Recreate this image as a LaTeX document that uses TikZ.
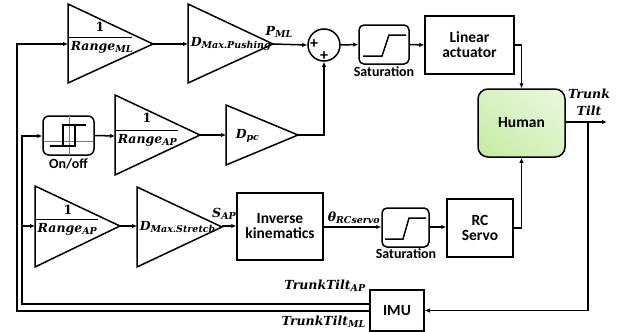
\documentclass[tikz,border=0pt]{standalone}
\usepackage{fontspec}
\setsansfont{Carlito}
\newfontfamily\mfont{DejaVu Serif}
\usetikzlibrary{arrows.meta,shadings}
\newcommand\msb[2]{#1\raisebox{-0.3ex}{\fontsize{9.5}{10}\selectfont #2}}
\begin{document}
\begin{tikzpicture}[x=1pt,y=-1pt,
  line width=1.5pt,
  arr/.style={-{Latex[length=5pt,width=4.5pt]}},
  blk/.style={draw, line width=1.5pt},
  sfl/.style={font=\sffamily\bfseries\fontsize{15.5}{17}\selectfont, align=center},
  satl/.style={font=\sffamily\bfseries\fontsize{14}{15}\selectfont},
  mth/.style={font=\mfont\bfseries\itshape\fontsize{12.5}{15}\selectfont, inner sep=0pt},
  one/.style={font=\mfont\bfseries\fontsize{12.5}{15}\selectfont, inner sep=0pt},
  gax/.style={draw=gray, line width=0.8pt},
  plus/.style={font=\sffamily\bfseries\fontsize{16}{16}\selectfont, inner sep=0pt},
]
\useasboundingbox (0,0) rectangle (627,332);

% ---------- Row 1 ----------
\draw[blk] (68,4) -- (68,83) -- (153,44) -- cycle;
\coordinate (t1in) at (68,44); \coordinate (t1out) at (153,44);
\node[one] (t1n) at (100,27) {1};
\draw[line width=0.8pt] (69,37) -- (132,37);
\node[mth, anchor=west] (t1d) at (70,47) {\msb{Range}{ML}};

\draw[blk] (188,4) -- (188,83) -- (273,44) -- cycle;
\coordinate (t2in) at (188,44); \coordinate (t2out) at (273,44);
\node[mth, anchor=west] (t2l) at (190,44) {\msb{D}{Max.Pushing}};
\node[mth] (pml) at (279,32) {\msb{P}{ML}};

\node[draw, circle, minimum size=32pt, inner sep=0pt, line width=1.5pt] (sum) at (324,45) {};
\node[plus] (p1) at (314,44) {+};
\node[plus] (p2) at (324,56) {+};

\node[draw, rounded corners=5pt, minimum width=50pt, minimum height=39pt, line width=1.5pt] (sat1) at (384,44.5) {};
\draw[line width=1.5pt] (363,56) -- (382,56) -- (389,35) -- (406,35);
\node[satl] (sat1l) at (384,72) {Saturation};

\node[blk, sfl, minimum width=89pt, minimum height=58pt] (la) at (469.5,45) {Linear\\[-2pt]actuator};

% ---------- Human ----------
\definecolor{hgA}{HTML}{C3EBA0}
\definecolor{hgM}{HTML}{D8F2C2}
\definecolor{hgB}{HTML}{EAF8E0}
\node[draw, rounded corners=10pt, minimum width=87pt, minimum height=68pt, line width=1.5pt,
  lower left=hgA, upper left=hgM, lower right=hgM, upper right=hgB, sfl] (hum) at (521.5,123) {Human};
\coordinate (hout) at (607,122);
\node[mth, align=center, font=\mfont\bfseries\itshape\fontsize{12.5}{17}\selectfont] (tt) at (589,102) {Trunk\\Tilt};

% ---------- Row 2 ----------
\node[draw, rounded corners=6pt, minimum width=51pt, minimum height=39pt, line width=1.5pt] (onoff) at (68.5,135.5) {};
\draw[gax] (69,116) -- (69,155);
\draw[gax] (44,141) -- (93,141);
\draw[line width=1.5pt] (50,146) -- (75,146) -- (75,125);
\draw[line width=1.5pt] (63,146) -- (63,125) -- (86,125);
\node[satl] (onoffl) at (68.5,164) {On/off};

\draw[blk] (115,95) -- (115,175) -- (200,135) -- cycle;
\coordinate (t3in) at (115,136); \coordinate (t3out) at (200,135);
\node[one] (t3n) at (147,118) {1};
\draw[line width=0.8pt] (116,130) -- (178,130);
\node[mth, anchor=west] (t3d) at (117,140) {\msb{Range}{AP}};

\draw[blk] (226,105) -- (226,165) -- (298,135) -- cycle;
\coordinate (t4in) at (226,135); \coordinate (t4out) at (298,135);
\node[mth, anchor=west] (t4l) at (235,136) {\msb{D}{pc}};
\coordinate (sumb) at (324,135);

% ---------- Row 3 ----------
\draw[blk] (35,186) -- (35,267) -- (120,226) -- cycle;
\coordinate (t5in) at (35,226); \coordinate (t5out) at (120,226);
\node[one] (t5n) at (68,210) {1};
\draw[line width=0.8pt] (36,219) -- (98,219);
\node[mth, anchor=west] (t5d) at (37,229) {\msb{Range}{AP}};

\draw[blk] (137,187) -- (137,267) -- (222,227) -- cycle;
\coordinate (t6in) at (137,226); \coordinate (t6out) at (222,226);
\node[mth, anchor=west] (t6l) at (139,227) {\msb{D}{Max.Stretch}};
\node[mth] (sap) at (224,214) {\msb{S}{AP}};

\node[blk, sfl, minimum width=86pt, minimum height=67pt] (ik) at (280,226.5) {Inverse\\[-2pt]kinematics};
\node[mth, anchor=south west] (th) at (327,224) {\msb{θ}{RCservo}};

\node[draw, rounded corners=5pt, minimum width=47pt, minimum height=39pt, line width=1.5pt] (sat2) at (405.5,227.5) {};
\draw[line width=1.5pt] (385,239) -- (403,239) -- (409,218) -- (426,218);
\node[satl] (sat2l) at (406,254) {Saturation};

\node[blk, sfl, minimum width=66pt, minimum height=58pt] (rc) at (480,228) {RC\\[-2pt]Servo};

% ---------- IMU ----------
\node[blk, sfl, minimum width=54pt, minimum height=41pt] (imu) at (397,310.5) {IMU};
\node[mth, anchor=east] (ttap) at (366,286) {\msb{TrunkTilt}{AP}};
\node[mth, anchor=east] (ttml) at (366,322) {\msb{TrunkTilt}{ML}};

% ---------- connectors ----------
\draw[arr] (t1out) -- (t2in);
\draw[arr] (t2out) -- (sum.west);
\draw[arr] (sum.east) -- (sat1.west);
\draw[arr] (sat1.east) -- (la.west);
\draw[arr] (la.east) -| (hum.north);
\draw[arr] (rc.east) -| (hum.south);
\draw[arr] (hum.east |- hout) -- (hout);
\draw[arr] (588,122) |- (imu.east);
\draw[arr] (onoff.east) -- (t3in);
\draw[arr] (t3out) -- (t4in);
\draw[arr] (t4out) -- (sumb) -- (sum.south);
\draw[arr] (t5out) -- (t6in);
\draw[arr] (t6out) -- (ik.west |- t6out);
\draw[arr] (ik.east |- 0,227) -- (sat2.west |- 0,227);
\draw[arr] (sat2.east |- 0,227) -- (rc.west |- 0,227);
% feedback AP (inner)
\draw[arr] (imu.west |- 0,304) -- (22,304) -- (22,136) -- (onoff.west |- 0,136);
\draw[arr] (22,226) -- (t5in);
% feedback ML (outer)
\draw[arr] (imu.west |- 0,311) -- (17,311) -- (17,44) -- (t1in);
\end{tikzpicture}
\end{document}
